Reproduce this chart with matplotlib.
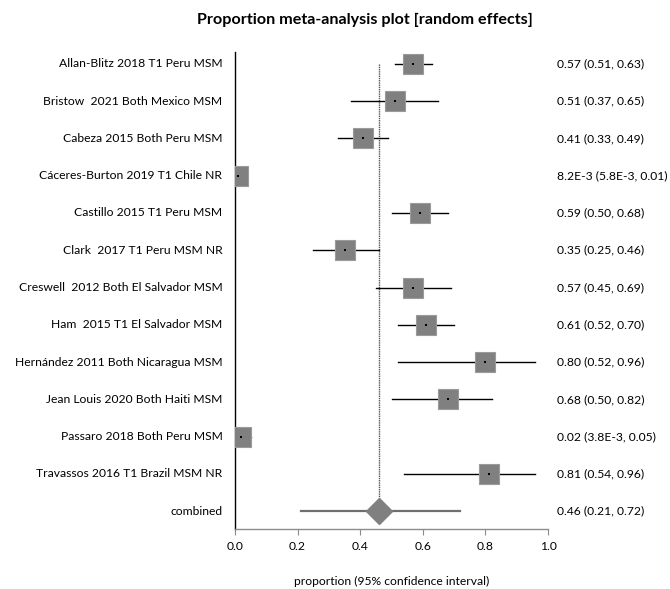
import matplotlib
matplotlib.use("Agg")
import matplotlib.pyplot as plt

plt.rcParams['font.family'] = ['Lato', 'DejaVu Sans']

studies = [
    "Allan-Blitz 2018 T1 Peru MSM",
    "Bristow  2021 Both Mexico MSM",
    "Cabeza 2015 Both Peru MSM",
    "Cáceres-Burton 2019 T1 Chile NR",
    "Castillo 2015 T1 Peru MSM",
    "Clark  2017 T1 Peru MSM NR",
    "Creswell  2012 Both El Salvador MSM",
    "Ham  2015 T1 El Salvador MSM",
    "Hernández 2011 Both Nicaragua MSM",
    "Jean Louis 2020 Both Haiti MSM",
    "Passaro 2018 Both Peru MSM",
    "Travassos 2016 T1 Brazil MSM NR",
]
prop = [0.57, 0.51, 0.41, 0.0082, 0.59, 0.35, 0.57, 0.61, 0.80, 0.68, 0.02, 0.81]
lower = [0.51, 0.37, 0.33, 0.0058, 0.50, 0.25, 0.45, 0.52, 0.52, 0.50, 0.0038, 0.54]
upper = [0.63, 0.65, 0.49, 0.01, 0.68, 0.46, 0.69, 0.70, 0.96, 0.82, 0.05, 0.96]

pooled_label = "combined"
pooled = 0.46
pooled_lower = 0.21
pooled_upper = 0.72

x_ticks = [0.0, 0.2, 0.4, 0.6, 0.8, 1.0]

FS = 8.7


def fmt(v):
    if v < 0.01 - 1e-12:
        m, e = f"{v:.1E}".split("E")
        return f"{m}E{int(e)}"
    return f"{v:.2f}"


fig = plt.figure(figsize=(6.7, 5.89), dpi=100)
ax = fig.add_axes([235 / 670, 1 - 529 / 589, 313 / 670, 477 / 589])

n = len(studies)
rows = list(range(n))
gray = "#808080"

for i in rows:
    ax.plot([lower[i], upper[i]], [i, i], color="black", lw=1.0, zorder=2)
    ax.plot(prop[i], i, marker="s", ms=14.6, color=gray, mec="#9a9a9a",
            mew=0.8, zorder=3)
    ax.plot(prop[i], i, marker="s", ms=1.5, color="black", mew=0, zorder=4)

# pooled estimate
ax.plot([pooled_lower, pooled_upper], [n, n], color="#6f6f6f", lw=1.6, zorder=2)
ax.plot(pooled, n, marker="D", ms=13.0, color=gray, mec=gray, zorder=3)
ax.plot([pooled, pooled], [0, n], color="#555555", lw=1.0, ls=(0, (1, 0.6)),
        zorder=1)

ax.set_xlim(0, 1)
ax.set_ylim(n + 0.48, -0.32)

for i in rows:
    ax.text(-0.04, i, studies[i], ha="right", va="center", fontsize=FS,
            clip_on=False)
    ax.text(1.028, i, f"{fmt(prop[i])} ({fmt(lower[i])}, {fmt(upper[i])})",
            ha="left", va="center", fontsize=FS, clip_on=False)
ax.text(-0.04, n, pooled_label, ha="right", va="center", fontsize=FS,
        clip_on=False)
ax.text(1.028, n, f"{fmt(pooled)} ({fmt(pooled_lower)}, {fmt(pooled_upper)})",
        ha="left", va="center", fontsize=FS, clip_on=False)

for s in ("top", "right"):
    ax.spines[s].set_visible(False)
ax.spines["left"].set_color("black")
ax.spines["left"].set_linewidth(1.0)
ax.spines["bottom"].set_color("#8c8c8c")
ax.spines["bottom"].set_linewidth(1.0)
ax.set_yticks([])
ax.set_xticks(x_ticks)
ax.set_xticklabels([f"{t:.1f}" for t in x_ticks], fontsize=FS)
ax.tick_params(axis="x", direction="out", length=4, color="#8c8c8c", pad=5)
ax.set_xlabel("proportion (95% confidence interval)", fontsize=FS,
              labelpad=17)

fig.text(365 / 670, 1 - 20 / 589, "Proportion meta-analysis plot [random effects]",
         ha="center", va="center", fontsize=11.6, fontweight="bold")

fig.savefig("out.png", dpi=100)
